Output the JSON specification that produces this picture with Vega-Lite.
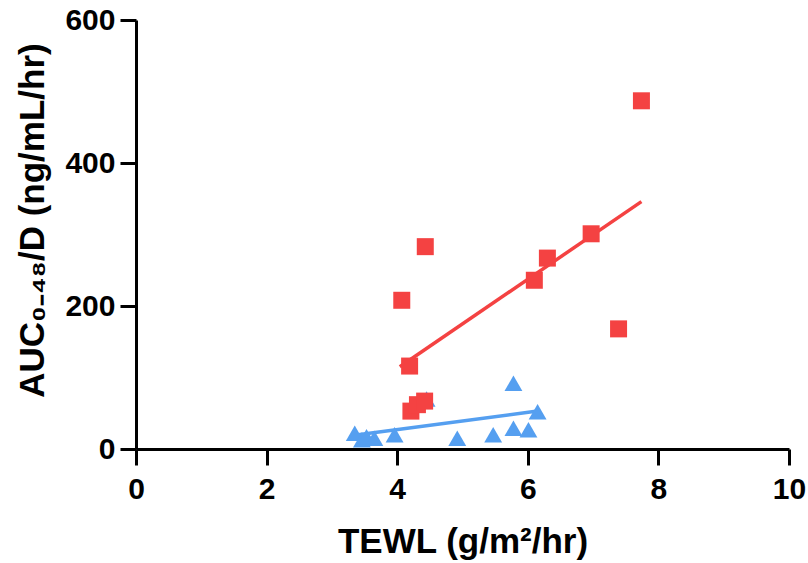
{
  "$schema": "https://vega.github.io/schema/vega-lite/v6.json",
  "width": 653,
  "height": 429,
  "autosize": "none",
  "padding": {"left": 136, "top": 20, "right": 19, "bottom": 114},
  "background": "white",
  "config": {
    "view": {"stroke": null},
    "font": "Liberation Sans",
    "axis": {
      "grid": false,
      "domainColor": "black",
      "domainWidth": 3,
      "tickColor": "black",
      "tickWidth": 3,
      "tickSize": 16,
      "labelFlush": false,
      "labelOverlap": false,
      "labelFont": "Liberation Sans",
      "labelFontWeight": "bold",
      "labelFontSize": 30,
      "labelColor": "black",
      "titleFont": "Liberation Sans",
      "titleFontWeight": "bold",
      "titleFontSize": 35,
      "titleColor": "black"
    }
  },
  "datasets": {
    "points": [
      {"group": "A", "tewl": 7.74, "auc": 487},
      {"group": "A", "tewl": 4.43, "auc": 283},
      {"group": "A", "tewl": 4.07, "auc": 208},
      {"group": "A", "tewl": 6.30, "auc": 267},
      {"group": "A", "tewl": 6.97, "auc": 301},
      {"group": "A", "tewl": 6.10, "auc": 236},
      {"group": "A", "tewl": 7.39, "auc": 168},
      {"group": "A", "tewl": 4.19, "auc": 116},
      {"group": "A", "tewl": 4.21, "auc": 53},
      {"group": "A", "tewl": 4.31, "auc": 62},
      {"group": "A", "tewl": 4.42, "auc": 67},
      {"group": "B", "tewl": 3.35, "auc": 22},
      {"group": "B", "tewl": 3.46, "auc": 13},
      {"group": "B", "tewl": 3.53, "auc": 17},
      {"group": "B", "tewl": 3.65, "auc": 15},
      {"group": "B", "tewl": 3.96, "auc": 20},
      {"group": "B", "tewl": 4.92, "auc": 15},
      {"group": "B", "tewl": 5.47, "auc": 20},
      {"group": "B", "tewl": 5.78, "auc": 29},
      {"group": "B", "tewl": 6.01, "auc": 27},
      {"group": "B", "tewl": 6.15, "auc": 52},
      {"group": "B", "tewl": 5.78, "auc": 92},
      {"group": "B", "tewl": 4.45, "auc": 70}
    ],
    "fits": [
      {"group": "A", "tewl": 4.04, "auc": 115},
      {"group": "A", "tewl": 7.74, "auc": 346},
      {"group": "B", "tewl": 3.40, "auc": 20},
      {"group": "B", "tewl": 6.15, "auc": 53}
    ]
  },
  "encoding": {
    "x": {
      "field": "tewl", "type": "quantitative",
      "scale": {"domain": [0, 10], "nice": false, "zero": false},
      "axis": {"values": [0, 2, 4, 6, 8, 10], "title": "TEWL (g/m²/hr)", "labelPadding": 9, "titlePadding": 20}
    },
    "y": {
      "field": "auc", "type": "quantitative",
      "scale": {"domain": [0, 600], "nice": false},
      "axis": {"values": [0, 200, 400, 600], "title": "AUC₀₋₄₈/D (ng/mL/hr)", "labelPadding": 5, "titlePadding": 14, "titleY": 200}
    },
    "color": {
      "field": "group", "type": "nominal",
      "scale": {"domain": ["A", "B"], "range": ["#F44242", "#559FF0"]},
      "legend": null
    }
  },
  "layer": [
    {
      "data": {"name": "fits"},
      "transform": [{"filter": "datum.group === 'B'"}],
      "mark": {"type": "line", "strokeWidth": 3.5}
    },
    {
      "data": {"name": "points"},
      "transform": [{"filter": "datum.group === 'B'"}],
      "mark": {"type": "point", "shape": "triangle-up", "filled": true, "opacity": 1, "size": 320}
    },
    {
      "data": {"name": "fits"},
      "transform": [{"filter": "datum.group === 'A'"}],
      "mark": {"type": "line", "strokeWidth": 3.5}
    },
    {
      "data": {"name": "points"},
      "transform": [{"filter": "datum.group === 'A'"}],
      "mark": {"type": "square", "filled": true, "opacity": 1, "size": 289}
    }
  ]
}
